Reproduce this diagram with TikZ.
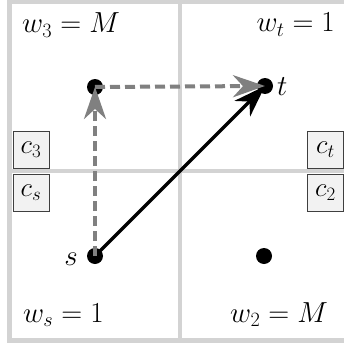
\RequirePackage{fix-cm}
\documentclass[tikz,border=0pt]{standalone}
\usetikzlibrary{arrows.meta}
\definecolor{gridc}{HTML}{D3D3D3}
\definecolor{boxfill}{HTML}{F2F2F2}
\definecolor{boxdraw}{HTML}{3F3F3F}
\definecolor{dashc}{HTML}{808080}
\begin{document}
\begin{tikzpicture}[x=1pt,y=-1pt,
  gridline/.style={draw=gridc,line width=4.5pt},
  dot/.style={circle,fill=black,inner sep=0pt,minimum size=16pt},
  cbox/.style={draw=boxdraw,fill=boxfill,line width=0.8pt,minimum width=36pt,minimum height=37pt,inner sep=0pt,font=\fontsize{27}{30}\selectfont},
  wlabel/.style={inner sep=0pt,font=\fontsize{29}{33}\selectfont},
  vlabel/.style={inner sep=0pt,font=\fontsize{29}{33}\selectfont},
  dasharrow/.style={draw=dashc,line width=4pt,dash pattern=on 10pt off 5pt,-{Stealth[length=32pt,width=22pt,inset=10pt,fill=dashc,sep=0pt]}},
  solidarrow/.style={draw=black,line width=3.5pt,-{Stealth[length=32pt,width=22pt,inset=10pt]}}]
\useasboundingbox (0,0) rectangle (343,345);
\fill[white] (0,0) rectangle (343,345);
% grid
\draw[gridline] (9.5,1.5) -- (360,1.5);
\draw[gridline] (9.5,340.5) -- (360,340.5);
\draw[gridline] (9.5,-5) -- (9.5,343);
\draw[gridline] (180,-5) -- (180,343);
\draw[gridline] (7,171) -- (360,171);
% boxes
\node[cbox] (c3) at (31,149.5) {$c_3$};
\node[cbox] (cs) at (31,193) {$c_s$};
\node[cbox] (ct) at (325.5,150) {$c_t$};
\node[cbox] (c2) at (325.5,193) {$c_2$};
% weight labels
\node[wlabel,anchor=base west] (w3) at (22,33) {$w_3 = M$};
\node[wlabel,anchor=base east] (wt) at (335,32) {$w_t = 1$};
\node[wlabel,anchor=base west] (ws) at (23,322) {$w_s = 1$};
\node[wlabel,anchor=base east] (w2) at (328,322) {$w_2 = M$};
% dots
\node[dot] (s) at (95,256) {};
\node[dot] (m) at (95,87) {};
\node[dot] (t) at (265,86) {};
\node[dot] (b) at (264,256) {};
\node[vlabel,anchor=base east] (sl) at (78,265) {$s$};
\node[vlabel,anchor=base west] (tl) at (277,95) {$t$};
% arrows
\draw[solidarrow] (s.center) -- (t.center);
\draw[dasharrow] (s.center) -- (m.center);
\draw[dasharrow] (m.center) -- (t.center);
\end{tikzpicture}
\end{document}
